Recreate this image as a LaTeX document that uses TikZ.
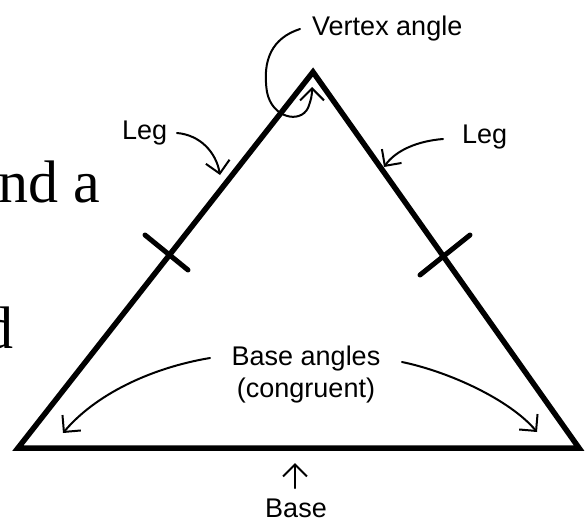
\documentclass[tikz,border=0pt]{standalone}
\usepackage{fontspec}
\setmainfont{Liberation Sans}
\newfontfamily\bgserif{Liberation Serif}
\usetikzlibrary{arrows.meta}
\begin{document}
\begin{tikzpicture}[x=1pt,y=-1pt,
  lbl/.style={inner sep=0pt,font=\fontsize{27}{32}\selectfont},
  bgtext/.style={inner sep=0pt,font=\bgserif\fontsize{60}{70}\selectfont},
  side/.style={line width=5.5pt,line join=miter},
  tick/.style={line width=5pt,line cap=round},
  pointer/.style={line width=2pt,line cap=round,
    -{Straight Barb[length=12pt,width=24pt,line width=2pt]}}]
\useasboundingbox (0,0) rectangle (585,519);
\clip (0,0) rectangle (585,519);
\fill[white] (0,0) rectangle (585,519);
% background text fragments
\node[bgtext,anchor=base east] (bg1) at (100,202) {nd a};
\node[bgtext,anchor=base east] (bg2) at (14,348) {d};
% triangle
\coordinate (A) at (313,72);
\coordinate (B) at (18,448);
\coordinate (C) at (579,448);
\draw[side] (A) -- (B) -- (C) -- cycle;
% tick marks
\coordinate (t1a) at (145,235); \coordinate (t1b) at (188,270);
\coordinate (t2a) at (420,275); \coordinate (t2b) at (470,235);
\draw[tick] (t1a) -- (t1b);
\draw[tick] (t2a) -- (t2b);
% labels
\node[lbl,anchor=base west] (vtx) at (312,35) {Vertex angle};
\node[lbl,anchor=base west] (legl) at (122,139) {Leg};
\node[lbl,anchor=base west] (legr) at (462,143) {Leg};
\node[lbl,anchor=base] (basea) at (306,365) {Base angles};
\node[lbl,anchor=base] (cong) at (306,397) {(congruent)};
\node[lbl,anchor=base] (basetxt) at (296,517) {Base};
% pointer coordinates
\coordinate (vs) at (300,29);  \coordinate (vt) at (312,87);
\coordinate (ls) at (177,133); \coordinate (lt) at (220,175);
\coordinate (rs) at (443,139); \coordinate (rt) at (384,167);
\coordinate (bls) at (210,358); \coordinate (blt) at (63,433);
\coordinate (brs) at (402,362); \coordinate (brt) at (537,432);
\coordinate (us) at (295,488); \coordinate (ut) at (295,463);
% pointers
\draw[pointer] (vs) .. controls (272,38) and (262,60) .. (267,92)
  .. controls (272,118) and (300,124) .. (308,108)
  .. controls (311,100) and (312,96) .. (vt);
\draw[pointer] (ls) .. controls (200,135) and (216,152) .. (lt);
\draw[pointer] (rs) .. controls (418,141) and (396,150) .. (rt);
\draw[pointer] (bls) .. controls (150,368) and (95,395) .. (blt);
\draw[pointer] (brs) .. controls (450,372) and (510,400) .. (brt);
\draw[pointer] (us) -- (ut);
\end{tikzpicture}
\end{document}
